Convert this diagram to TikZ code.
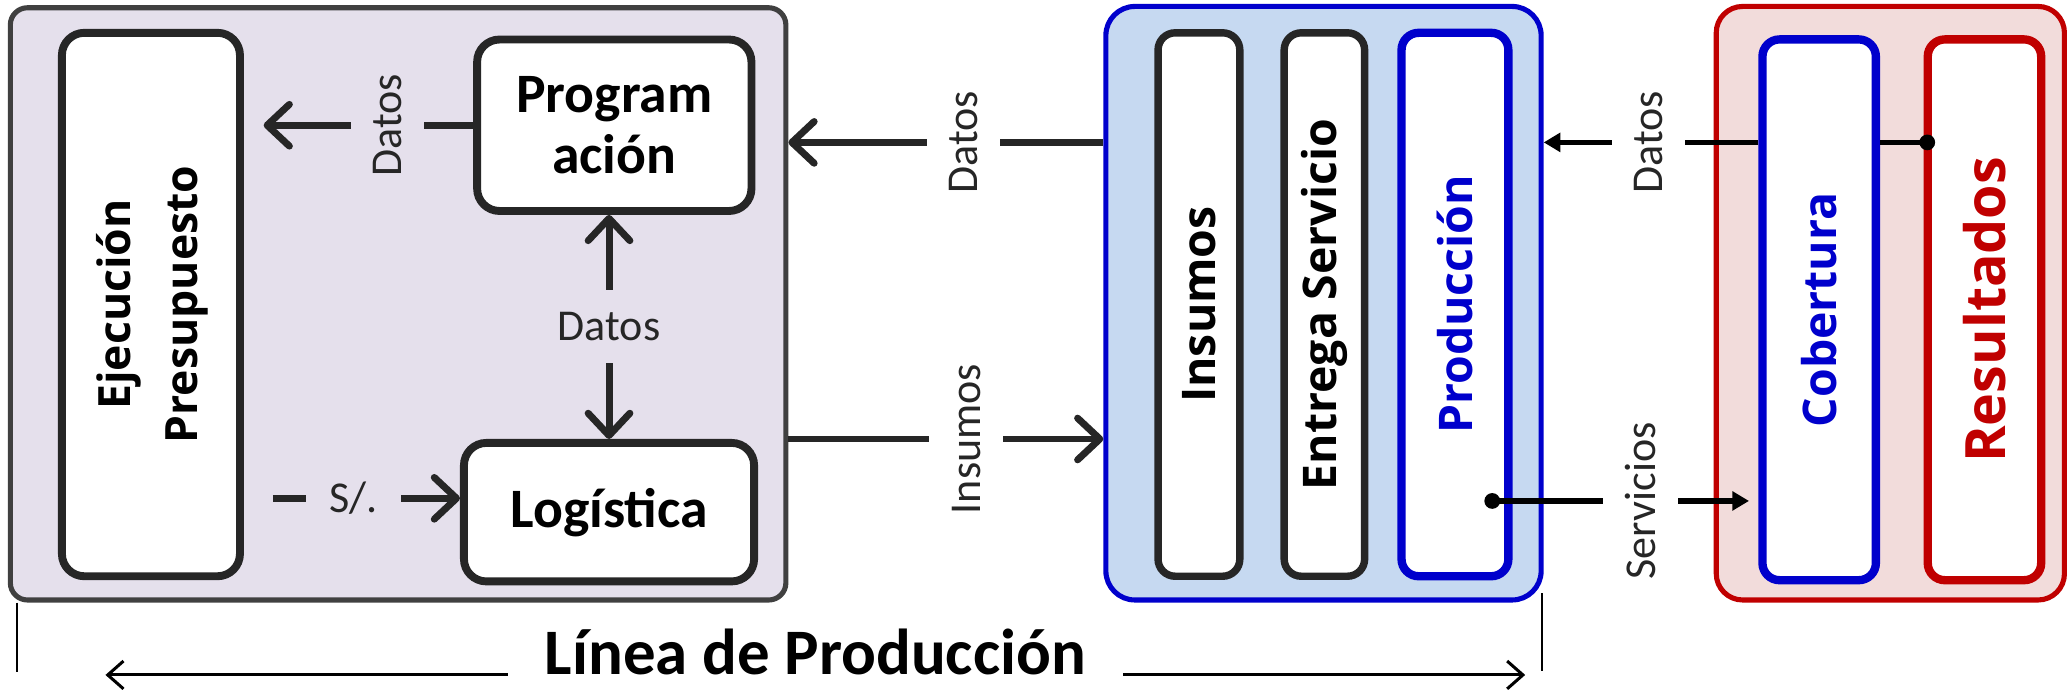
\documentclass[tikz,border=0pt]{standalone}
\usepackage{fontspec}
\setmainfont{Carlito}
\newfontfamily\osfont{Open Sans}
\usepackage{tikz}
\usetikzlibrary{positioning,arrows.meta}
\definecolor{lavfill}{HTML}{E5E0EC}
\definecolor{lavline}{HTML}{404040}
\definecolor{bluefill}{HTML}{C6D9F1}
\definecolor{blueline}{HTML}{0000CC}
\definecolor{pinkfill}{HTML}{F2DCDB}
\definecolor{redline}{HTML}{C00000}
\definecolor{ink}{HTML}{262626}
\tikzset{barb/.tip={Straight Barb[length=4.8pt,width=9pt,round]},
  outer box/.style={draw,line width=1.1pt,rounded corners=0.13cm,inner sep=0pt},
  main node/.style={draw=ink,fill=white,line width=1.7pt,rounded corners=0.17cm,inner sep=0pt,align=center,font=\fontsize{12}{13}\selectfont\bfseries},
  bar node/.style={draw=ink,fill=white,line width=1.6pt,rounded corners=0.13cm,inner sep=0pt,minimum width=0.62cm,minimum height=4.12cm,font=\osfont\bfseries\fontsize{10}{12}\selectfont},
  lbl/.style={font=\fontsize{9.5}{11}\selectfont,inner xsep=1pt,inner ysep=4.8pt,text=ink},
  flow/.style={draw=ink,line width=1.5pt,-barb},
  both flow/.style={draw=ink,line width=1.5pt,barb-barb},
  thin flow/.style={draw=black,line width=1.1pt,-{Triangle[length=3.6pt,width=4pt]}},
  dot/.style={circle,fill=black,inner sep=0pt,minimum size=3.4pt}}
\begin{document}
\begin{tikzpicture}[x=0.01cm,y=-0.01cm]
\useasboundingbox (0,0) rectangle (1568,523);
\node[outer box,draw=lavline,fill=lavfill,minimum width=5.88cm,minimum height=4.49cm] (lp) at (302,230.5) {};
\node[outer box,draw=blueline,fill=bluefill,rounded corners=0.22cm,minimum width=3.30cm,minimum height=4.50cm] (mp) at (1004,230) {};
\node[outer box,draw=redline,fill=pinkfill,rounded corners=0.2cm,minimum width=2.64cm,minimum height=4.50cm] (rp) at (1434,230) {};

\node[main node,minimum width=1.35cm,minimum height=4.12cm,font=\osfont\bfseries\fontsize{9.6}{14.5}\selectfont] (ejec) at (114.5,231) {\rotatebox{90}{\begin{tabular}{@{}c@{}}Ejecución\\Presupuesto\end{tabular}}};
\node[main node,minimum width=2.08cm,minimum height=1.30cm] (prog) at (466,95) {Program\\ación};
\node[main node,minimum width=2.20cm,minimum height=1.05cm] (logi) at (462,388.5) {Logística};

\node[bar node] (insu) at (909.5,231) {\rotatebox{90}{Insumos}};
\node[bar node,right=0.28cm of insu,minimum width=0.61cm] (entr) {\rotatebox{90}{Entrega Servicio}};
\node[bar node,right=0.22cm of entr,draw=blueline,text=blueline,minimum width=0.81cm,line width=1.8pt] (prod) {\rotatebox{90}{Producción}};

\node[bar node,draw=blueline,text=blueline,minimum width=0.86cm,minimum height=4.10cm,line width=1.8pt] (cobe) at (1380,235) {\rotatebox{90}{Cobertura}};
\node[bar node,right=0.33cm of cobe,draw=redline,text=redline,minimum width=0.86cm,minimum height=4.10cm,line width=1.8pt,font=\osfont\bfseries\fontsize{12}{14}\selectfont] (resu) {\rotatebox{90}{Resultados}};

\coordinate (tEj) at (200,95);
\coordinate (sEj) at (207,378);
\coordinate (dY) at (0,108);
\coordinate (iY) at (0,333);
\node[dot] (dProd) at (1132,380) {};
\node[dot] (dRes) at (1462,108) {};

\path (prog.west) edge[flow] node[lbl,fill=lavfill,rotate=90,pos=0.41] {Datos} (tEj);
\path (logi.north) edge[both flow] node[lbl,fill=lavfill] {Datos} (logi.north |- prog.south);
\path (sEj) edge[flow] node[lbl,fill=lavfill,inner xsep=5pt,pos=0.43] {S/.} (sEj -| logi.west);
\path (mp.west |- dY) edge[flow] node[lbl,fill=white,rotate=90,pos=0.444] {Datos} (lp.east |- dY);
\path (lp.east |- iY) edge[flow] node[lbl,fill=white,rotate=90,pos=0.564] {Insumos} (mp.west |- iY);
\path (dProd.center) edge[thin flow,shorten >=2pt] node[lbl,fill=white,rotate=90,pos=0.556] {Servicios} (dProd.center -| cobe.west);
\path (cobe.west |- dY) edge[thin flow] node[lbl,fill=white,rotate=90,pos=0.51] {Datos} (mp.east |- dY);
\path[draw,line width=1.1pt] (cobe.east |- dY) -- (dRes.center);

\coordinate (bL) at (80,512);
\coordinate (bR) at (1157,512);
\path (bL) edge[draw,line width=0.65pt,{Straight Barb[length=3.4pt,width=6pt]}-{Straight Barb[length=3.4pt,width=6pt]}] node[pos=0.5,anchor=base,fill=white,inner xsep=8pt,inner ysep=1pt,font=\fontsize{14}{16}\selectfont\bfseries] (ttl) {Línea de Producción} (bR);
\draw[line width=0.4pt] ([xshift=0.07cm]lp.south west) -- ++(0,53);
\draw[line width=0.4pt] ([xshift=-0.01cm,yshift=0.07cm]mp.south east) -- ++(0,59);
\end{tikzpicture}
\end{document}
